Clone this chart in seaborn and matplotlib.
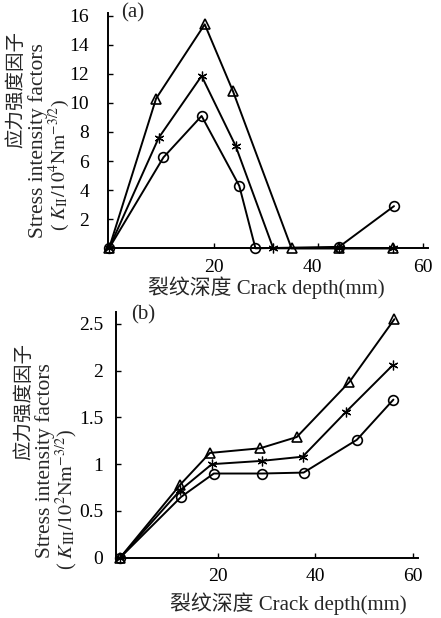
import numpy as np
import pandas as pd
import matplotlib
matplotlib.use("Agg")
import matplotlib.pyplot as plt
import matplotlib.transforms as mtransforms
import seaborn as sns

# ---- Data panel (a): K_II ----
a_tri_x = [0, 9.0, 18.3, 23.7, 34.9, 44.0, 54.3]
a_tri_y = [0, 10.3, 15.4, 10.8, 0, 0, 0]
a_star_x = [0, 9.5, 17.7, 24.2, 31.4, 44.0, 54.3]
a_star_y = [0, 7.6, 11.85, 7.05, 0, 0, 0]
a_circ_x = [0, 10.4, 17.7, 24.9, 28.0, 44.0, 54.5]
a_circ_y = [0, 6.25, 9.1, 4.3, 0, 0.1, 2.9]

# ---- Data panel (b): K_III ----
b_tri_x = [0, 12.3, 18.4, 28.7, 36.2, 47.0, 56.2]
b_tri_y = [0, 0.78, 1.12, 1.17, 1.29, 1.88, 2.55]
b_star_x = [0, 12.3, 18.8, 29.0, 37.4, 46.3, 55.9]
b_star_y = [0, 0.72, 1.0, 1.035, 1.08, 1.56, 2.06]
b_circ_x = [0, 12.5, 19.2, 29.1, 37.6, 48.5, 56.0]
b_circ_y = [0, 0.65, 0.90, 0.90, 0.91, 1.26, 1.69]

a_yticks = [2, 4, 6, 8, 10, 12, 14, 16]
b_yticks = [0, 0.5, 1, 1.5, 2, 2.5]
b_yticklabels = ["0", "0.5", "1", "1.5", "2", "2.5"]
xticks = [20, 40, 60]

xlabel = "裂纹深度 Crack depth(mm)"
ylab_cn = "应力强度因子"
ylab_en = "Stress intensity factors"
ylab_a = r"( $K_{\rm II}/10^{4}\mathrm{Nm}^{-3/2}$)"
ylab_b = r"( $K_{\rm III}/10^{2}\mathrm{Nm}^{-3/2}$)"

sns.set_theme(style="ticks")
plt.rcParams["font.family"] = ["Liberation Serif", "Noto Sans CJK SC"]
plt.rcParams["mathtext.fontset"] = "stix"

W, H = 441, 618
fig = plt.figure(figsize=(W / 100, H / 100), dpi=100)

def px_axes(l, r, t, b):
    return fig.add_axes([l / W, 1 - b / H, (r - l) / W, (b - t) / H])

ax_a = px_axes(108, 428, 12.7, 248.3)
ax_b = px_axes(115.7, 418.3, 311.7, 557.7)

series_style = [
    dict(marker="^", ms=6.5, mew=1.2),
    dict(marker=(6, 2, 0), ms=7, mew=0.9),
    dict(marker="o", ms=7, mew=1.2),
]

def draw(ax, xs_list, ys_list):
    for (xs, ys), st in zip(zip(xs_list, ys_list), series_style):
        df = pd.DataFrame({"x": xs, "y": ys})
        sns.lineplot(data=df, x="x", y="y", ax=ax, color="black", lw=1.4,
                     marker=st["marker"], markersize=st["ms"],
                     markerfacecolor="none", markeredgecolor="black",
                     markeredgewidth=st["mew"], clip_on=False)

draw(ax_a, [a_tri_x, a_star_x, a_circ_x], [a_tri_y, a_star_y, a_circ_y])
draw(ax_b, [b_tri_x, b_star_x, b_circ_x], [b_tri_y, b_star_y, b_circ_y])

ax_a.set_xlim(-0.2, 61)
ax_a.set_ylim(0, 16.2)
ax_b.set_xlim(-0.9, 61.1)
ax_b.set_ylim(0, 2.63)

for ax in (ax_a, ax_b):
    ax.spines["top"].set_visible(False)
    ax.spines["right"].set_visible(False)
    for s in ("left", "bottom"):
        ax.spines[s].set_linewidth(1.4)
        ax.spines[s].set_color("black")
    ax.set_xlabel("")
    ax.set_ylabel("")
    ax.set_xticks(xticks)
    ax.set_xticklabels([str(v) for v in xticks])
    ax.tick_params(direction="in", length=3.5, width=1, colors="black",
                   labelsize=14)
    ax.tick_params(axis="x", pad=7.5)

ax_a.set_yticks(a_yticks)
ax_a.set_yticklabels([str(v) for v in a_yticks])
ax_a.tick_params(axis="y", pad=13.5)
ax_b.set_yticks(b_yticks)
ax_b.set_yticklabels(b_yticklabels)
ax_b.tick_params(axis="y", pad=9)

# the "40" label of panel (a) sits a little left of its tick in the original
lab40 = ax_a.get_xticklabels()[1]
lab40.set_transform(lab40.get_transform() +
                    mtransforms.ScaledTranslation(-6 / 100, 0, fig.dpi_scale_trans))

# panel labels
fig.text(133 / W, 1 - 13 / H, "(a)", ha="center", va="center", fontsize=15)
fig.text(143 / W, 1 - 315 / H, "(b)", ha="center", va="center", fontsize=15)

# x labels
fig.text(266 / W, 1 - 288 / H, xlabel, ha="center", va="center", fontsize=15)
fig.text(288 / W, 1 - 604 / H, xlabel, ha="center", va="center", fontsize=15)

# y labels panel (a)
fig.text(16 / W, 1 - 90 / H, ylab_cn, rotation=90, ha="center", va="center",
         fontsize=14)
fig.text(38.5 / W, 1 - 141 / H, ylab_en, rotation=90, ha="center", va="center",
         fontsize=15.5)
fig.text(59 / W, 1 - 165 / H, ylab_a, rotation=90, ha="center", va="center",
         fontsize=14)
# y labels panel (b)
fig.text(24 / W, 1 - 401 / H, ylab_cn, rotation=90, ha="center", va="center",
         fontsize=14)
fig.text(45 / W, 1 - 461 / H, ylab_en, rotation=90, ha="center", va="center",
         fontsize=15.5)
fig.text(67 / W, 1 - 500 / H, ylab_b, rotation=90, ha="center", va="center",
         fontsize=14.5)

fig.savefig("out.png", dpi=100)
